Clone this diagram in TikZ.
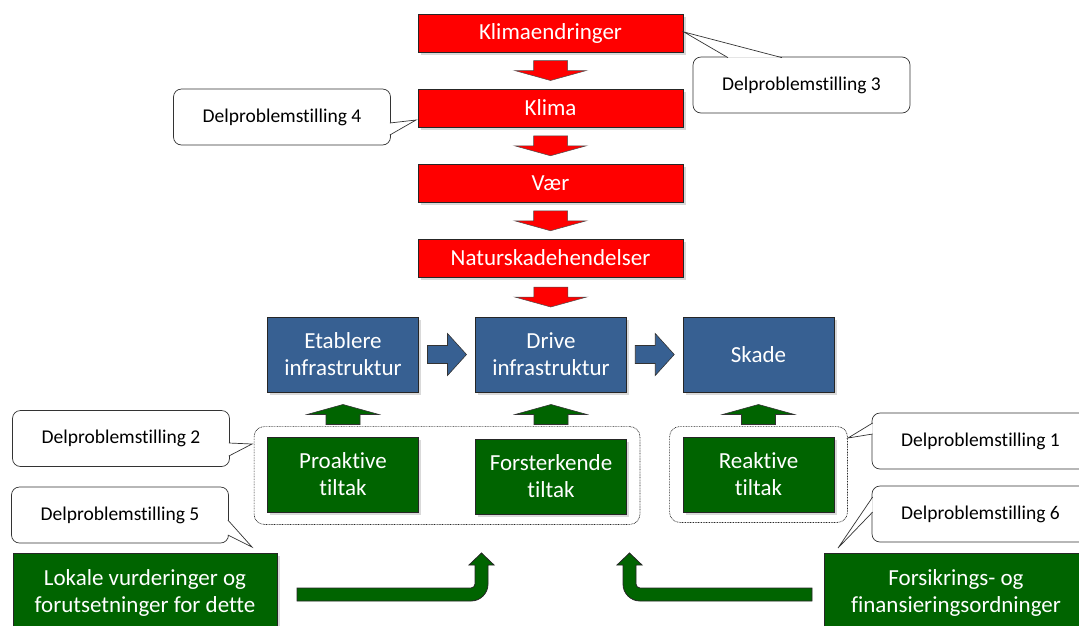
\documentclass[tikz,border=0pt]{standalone}
\usepackage{fontspec}
\setmainfont[Ligatures=NoCommon]{Carlito}
\usetikzlibrary{positioning,fit,calc,shadows}
\definecolor{klimared}{RGB}{255,0,0}
\definecolor{infrablue}{RGB}{55,96,146}
\definecolor{tiltakgreen}{RGB}{0,100,0}

% block arrows: #1 style, #2 centre, #3 = 1 down / -1 up
\newcommand{\vblock}[3]{\filldraw[#1, shift={#2}, yscale=#3] (-17,-10) -- (17,-10) -- (17,0) -- (36,0) -- (0,10) -- (-36,0) -- (-17,0) -- cycle;}
\newcommand{\hblock}[2]{\filldraw[#1, shift={#2}] (-19.5,-9) -- (0.5,-9) -- (0.5,-21) -- (19.5,0) -- (0.5,21) -- (0.5,9) -- (-19.5,9) -- cycle;}
% callout wedge: base point, base point, tip
\newcommand{\pointer}[3]{\fill[white] #1 -- #3 -- #2 -- cycle; \draw[ptr] #1 -- #3 -- #2;}

\begin{document}
\begin{tikzpicture}[x=1pt, y=-1pt,
		box/.style = {draw=black!85,
		              line width=0.8pt,
		              text=white,
		              align=center,
		              inner sep=0pt,
		              font=\fontsize{23}{27}\selectfont,
		              drop shadow={shadow xshift=2.5pt, shadow yshift=-2.5pt, opacity=0.3}},
		redbox/.style = {box, fill=klimared, minimum width=265pt, minimum height=38pt},
		bluebox/.style = {box, fill=infrablue, minimum width=151pt, minimum height=75pt},
		greenbox/.style = {box, fill=tiltakgreen, minimum width=151pt, minimum height=75pt},
		bigbox/.style = {box, fill=tiltakgreen, minimum width=264pt, minimum height=80pt},
		note/.style = {draw=black!80, fill=white, line width=0.7pt, rounded corners=8pt,
		               minimum width=217pt, minimum height=56pt, text=black,
		               font=\fontsize{19.5}{22}\selectfont},
		ptr/.style = {draw=black!80, line width=0.7pt},
		group/.style = {draw=black!85, dash pattern=on 0.8pt off 0.8pt, line width=0.7pt,
		                rounded corners=10pt, inner xsep=13pt, inner ysep=10pt},
		redarrow/.style = {fill=klimared, draw=black!70, line width=0.5pt},
		bluearrow/.style = {fill=infrablue, draw=black!80, line width=0.6pt},
		greenarrow/.style = {fill=tiltakgreen, draw=black!80, line width=0.6pt},
		bent/.style = {fill=tiltakgreen, draw=black!85, line width=0.8pt}]
		\useasboundingbox (0,0) rectangle (1079,625);
		\clip (0,0) rectangle (1079,625);

		% chain of causes
		\node[redbox] (klimaend) at (550.5,33) {Klimaendringer};
		\node[redbox] (klima) at (550.5,108) {Klima};
		\node[redbox] (vaer) at (550.5,183.5) {Vær};
		\node[redbox] (natur) at (550.5,258) {Naturskadehendelser};

		\node[bluebox] (etab) at (343,354.5) {Etablere\\infrastruktur};
		\node[bluebox] (drive) at (551,354.5) {Drive\\infrastruktur};
		\node[bluebox] (skade) at (758.5,354.5) {Skade};

		\node[greenbox] (pro) at (343,474.5) {Proaktive\\tiltak};
		\node[greenbox] (fors) at (551,476.5) {Forsterkende\\tiltak};
		\node[greenbox] (reak) at (758.5,474.5) {Reaktive\\tiltak};
		\node[group, fit=(pro)(fors)] (grp1) {};
		\node[group, fit=(reak)] (grp2) {};

		\node[bigbox] (lokale) at (145,593) {Lokale vurderinger og\\forutsetninger for dette};
		\node[bigbox] (forsikr) at (956,593) {Forsikrings- og\\finansieringsordninger};

		\vblock{redarrow}{($(klimaend.south)!0.5!(klima.north)$)}{1}
		\vblock{redarrow}{($(klima.south)!0.5!(vaer.north)$)}{1}
		\vblock{redarrow}{($(vaer.south)!0.5!(natur.north)$)}{1}
		\vblock{redarrow}{($(natur.south)!0.5!(drive.north)$)}{1}
		\hblock{bluearrow}{($(etab.east)!0.5!(drive.west)$)}
		\hblock{bluearrow}{($(drive.east)!0.5!(skade.west)$)}
		\vblock{greenarrow}{($(etab.south)!0.5!(pro.north)$)}{-1}
		\vblock{greenarrow}{($(drive.south)!0.5!(pro.north -| fors.north)$)}{-1}
		\vblock{greenarrow}{($(skade.south)!0.5!(reak.north)$)}{-1}

		% bent arrows from the bottom boxes
		\filldraw[bent] (297,588) -- (471,588) .. controls (473.2,588) and (475,586.2) .. (475,584)
			-- (475,565) -- (469,565) -- (481.5,553) -- (494,565) -- (488,565) -- (488,584)
			.. controls (488,593.4) and (480.4,601) .. (471,601) -- (297,601) -- cycle;
		\filldraw[bent] (812,588) -- (640,588) .. controls (637.8,588) and (636,586.2) .. (636,584)
			-- (636,565) -- (642,565) -- (629.5,553) -- (617,565) -- (623,565) -- (623,584)
			.. controls (623,593.4) and (630.6,601) .. (640,601) -- (812,601) -- cycle;

		% callouts
		\node[note] (dp4) at (282,117) {Delproblemstilling 4};
		\node[note] (dp3) at (801.5,85) {Delproblemstilling 3};
		\node[note] (dp2) at (121,438.5) {Delproblemstilling 2};
		\node[note] (dp5) at (120,515) {Delproblemstilling 5};
		\node[note] (dp1) at (980.5,441) {Delproblemstilling 1};
		\node[note] (dp6) at (980.5,514) {Delproblemstilling 6};

		\coordinate (t4) at (416,120);
		\coordinate (t3) at (684,32);
		\coordinate (t2) at (252,444);
		\coordinate (t5) at (252,547);
		\coordinate (t1) at (848,438);
		\coordinate (t6) at (838,548);
		\pointer{($(dp4.east)+(-1,6)$)}{($(dp4.east)+(-1,18)$)}{(t4)}
		\pointer{($(dp3.north)+(-73.5,1)$)}{($(dp3.north)+(-19.5,1)$)}{(t3)}
		\pointer{($(dp2.east)+(-1,4.5)$)}{($(dp2.east)+(-1,17.5)$)}{(t2)}
		\pointer{($(dp5.east)+(-1,5)$)}{($(dp5.east)+(-1,20)$)}{(t5)}
		\pointer{($(dp1.west)+(1,-18)$)}{($(dp1.west)+(1,-7)$)}{(t1)}
		\pointer{($(dp6.west)+(1,-17)$)}{($(dp6.west)+(1,-2)$)}{(t6)}
	\end{tikzpicture}
\end{document}
